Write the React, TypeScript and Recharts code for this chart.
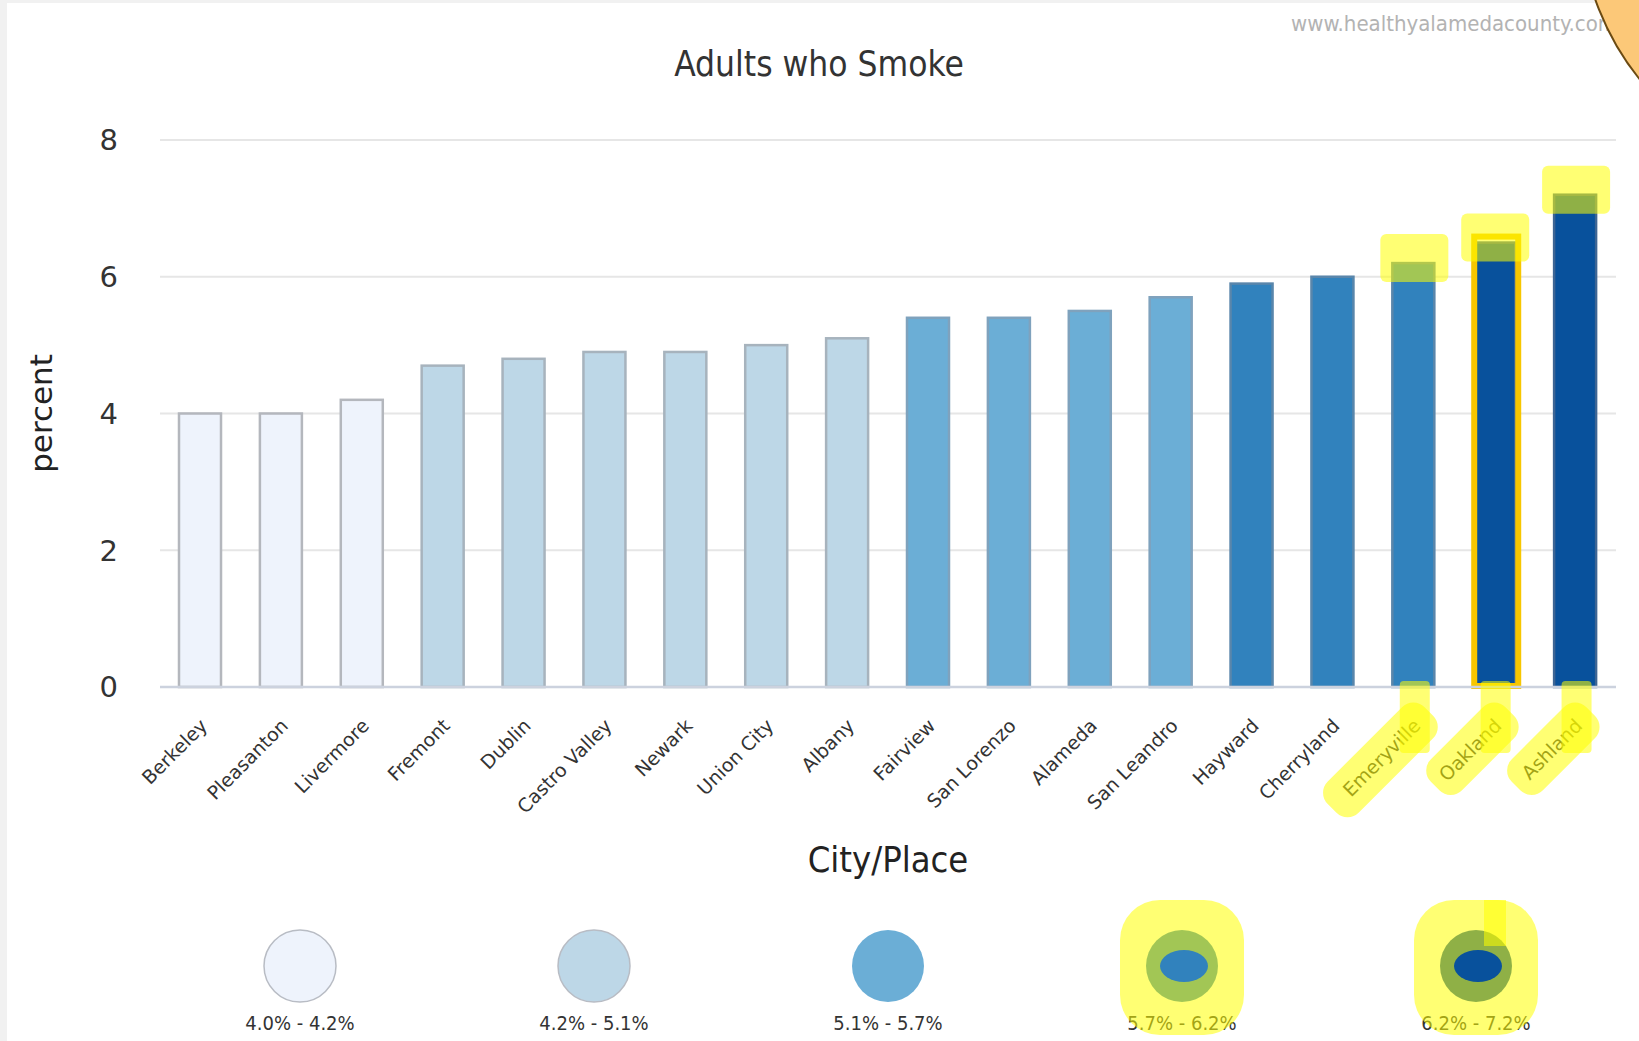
import React from 'react';
import { BarChart, Bar, XAxis, YAxis, CartesianGrid } from 'recharts';

const cities = [
  'Berkeley', 'Pleasanton', 'Livermore', 'Fremont', 'Dublin', 'Castro Valley',
  'Newark', 'Union City', 'Albany', 'Fairview', 'San Lorenzo', 'Alameda',
  'San Leandro', 'Hayward', 'Cherryland', 'Emeryville', 'Oakland', 'Ashland',
];
const smokingRates = [4.0, 4.0, 4.2, 4.7, 4.8, 4.9, 4.9, 5.0, 5.1, 5.4, 5.4, 5.5, 5.7, 5.9, 6.0, 6.2, 6.5, 7.2];

// colour classes (legend)
const rangeLows = [4.0, 4.2, 5.1, 5.7, 6.2];
const rangeHighs = [4.2, 5.1, 5.7, 6.2, 7.2];
const rangeColors = ['#eef3fc', '#bdd7e7', '#6baed6', '#3182bd', '#08519c'];
const rangeStrokes = ['#b4b7bd', '#a7b3bd', '#7fa2bd', '#5a86ab', '#3d6594'];

const yTicks = [0, 2, 4, 6, 8];

// hand-drawn highlighter marks on the screenshot
const highlightedCities = ['Emeryville', 'Oakland', 'Ashland'];
const boxedCities = ['Oakland'];
const highlightedRanges = [3, 4];

const HL = 'rgba(255,255,0,0.55)';
const FONT = '"DejaVu Sans", sans-serif';
const COND = '"DejaVu Sans Condensed", "DejaVu Sans", sans-serif';

const classOf = (v: number) => {
  const i = rangeHighs.findIndex((hi) => v <= hi);
  return i < 0 ? rangeHighs.length - 1 : i;
};

const data = cities.map((city, i) => ({
  city,
  rate: smokingRates[i],
  cls: classOf(smokingRates[i]),
}));

const BarShape = (props: any) => {
  const { x, y, width, height, payload } = props;
  const cls = payload.cls;
  const hl = highlightedCities.includes(payload.city);
  const boxed = boxedCities.includes(payload.city);
  return (
    <g>
      <rect x={x} y={y} width={width} height={height} fill={rangeColors[cls]} stroke={rangeStrokes[cls]} strokeWidth={2.5} />
      {boxed && (
        <rect x={x + 1} y={y - 6} width={width + 2} height={height + 5} fill="none" stroke="#f7c600" strokeWidth={6} />
      )}
      {hl && <rect x={x - 12} y={y - 29} width={width + 26} height={48} rx={6} fill={HL} />}
    </g>
  );
};

const CityTick = (props: any) => {
  const { x, y, payload } = props;
  const name = payload.value as string;
  const hl = highlightedCities.includes(name);
  const len = name.length * 10.5;
  return (
    <g>
      <g transform={`translate(${x + 8},${y + 40}) rotate(-45)`}>
        <text x={0} y={0} textAnchor="end" fontFamily={FONT} fontSize={19} fill="#333">
          {name}
        </text>
        {hl && <rect x={-len - 16} y={-28} width={len + 32} height={44} rx={16} fill={HL} />}
      </g>
      {hl && <rect x={x - 14} y={y - 6} width={30} height={72} rx={4} fill={HL} />}
    </g>
  );
};

const Overlay = () => (
  <svg width={1639} height={1041} style={{ position: 'absolute', left: 0, top: 0, pointerEvents: 'none' }}>
    <text x={1291} y={31} fontFamily={COND} fontSize={22} fill="#b3b3b3">
      www.healthyalamedacounty.com
    </text>
    <circle cx={1850} cy={-90} r={270} fill="#fcc878" stroke="#6b4a12" strokeWidth={2} />
    <text x={819} y={76} textAnchor="middle" fontFamily={COND} fontSize={35} fill="#333">
      Adults who Smoke
    </text>
    <text x={888} y={872} textAnchor="middle" fontFamily={COND} fontSize={36} fill="#222">
      City/Place
    </text>
    {rangeLows.map((lo, i) => {
      const cx = 300 + i * 294;
      const cy = 966;
      const hl = highlightedRanges.includes(i);
      return (
        <g key={i}>
          <circle cx={cx} cy={cy} r={36} fill={rangeColors[i]} stroke={i < 2 ? '#b8bcc4' : 'none'} strokeWidth={1.5} />
          <text x={cx} y={1030} textAnchor="middle" fontFamily={COND} fontSize={20} fill="#333">
            {`${lo.toFixed(1)}% - ${rangeHighs[i].toFixed(1)}%`}
          </text>
          {hl && (
            <>
              <rect x={cx - 62} y={900} width={124} height={135} rx={40} fill={HL} />
              <ellipse cx={cx + 2} cy={cy} rx={24} ry={16} fill={rangeColors[i]} />
            </>
          )}
          {i === 4 && <rect x={cx + 8} y={900} width={22} height={46} fill={HL} />}
        </g>
      );
    })}
  </svg>
);

export default function App() {
  return (
    <div style={{ position: 'absolute', left: 0, top: 0, width: 1639, height: 1041, background: '#f1f1f1', overflow: 'hidden' }}>
      <div style={{ position: 'absolute', left: 7, top: 3, right: 0, bottom: 0, background: '#ffffff' }} />
      <div style={{ position: 'absolute', left: 0, top: 0 }}>
        <BarChart width={1639} height={1041} data={data} margin={{ top: 140, right: 23, bottom: 0, left: 0 }}>
          <CartesianGrid vertical={false} stroke="#e6e6e6" strokeWidth={2} />
          <XAxis
            dataKey="city"
            interval={0}
            height={354}
            tickLine={false}
            tickSize={0}
            tickMargin={0}
            axisLine={{ stroke: '#ccd2de', strokeWidth: 2.5 }}
            tick={<CityTick />}
          />
          <YAxis
            width={160}
            domain={[0, 8]}
            ticks={yTicks}
            axisLine={false}
            tickLine={false}
            tickSize={0}
            tickMargin={42}
            tick={{ fontFamily: FONT, fontSize: 29, fill: '#333' }}
            label={({ viewBox }: any) => (
              <text
                x={viewBox.x + 52}
                y={viewBox.y + viewBox.height / 2}
                transform={`rotate(-90, ${viewBox.x + 52}, ${viewBox.y + viewBox.height / 2})`}
                textAnchor="middle"
                fontFamily={FONT}
                fontSize={31}
                fill="#222"
              >
                percent
              </text>
            )}
          />
          <Bar dataKey="rate" barSize={42} isAnimationActive={false} shape={<BarShape />} />
        </BarChart>
      </div>
      <Overlay />
    </div>
  );
}
